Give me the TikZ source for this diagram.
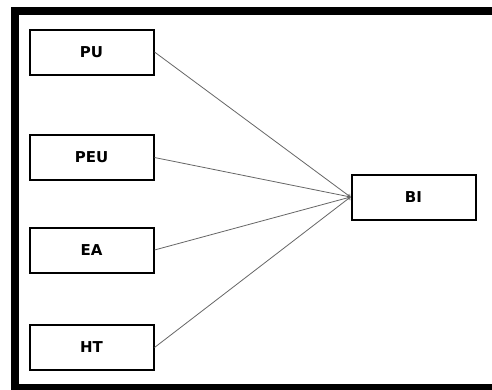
\documentclass[tikz,border=0pt]{standalone}
\usepackage{fontspec}
\setmainfont{DejaVu Sans}
\usepackage{tikz}
\usetikzlibrary{arrows,positioning}
\definecolor{gray4}{gray}{0.4}

\begin{document}
\begin{tikzpicture}
[x=1pt,y=-1pt,align=center]
\tikzstyle{plain}=[fill=white,draw,line width=2pt,minimum width=124pt,minimum height=45pt,inner sep=0pt,font=\fontsize{15}{18}\selectfont\bfseries]
\tikzstyle{link}=[draw=gray4,line width=0.8pt,-to]

\useasboundingbox (0,0) rectangle (492,389);
\clip (0,0) rectangle (492,389);
\fill [white] (0,0) rectangle (492,389);
\draw [line width=8pt] (15,11) rectangle (510,388);

\draw node [plain] at (91.5,52) (pu) {PU};
\draw node [plain] at (91.5,157.5) (peu) {PEU};
\draw node [plain] at (91.5,250) (ea) {EA};
\draw node [plain] at (91.5,347.5) (ht) {HT};
\draw node [plain] at (413.5,197) (bi) {BI};

\draw [link] (pu.east) -- (bi.west);
\draw [link] (peu.east) -- (bi.west);
\draw [link] (ea.east) -- (bi.west);
\draw [link] (ht.east) -- (bi.west);

\end{tikzpicture}
\end{document}
